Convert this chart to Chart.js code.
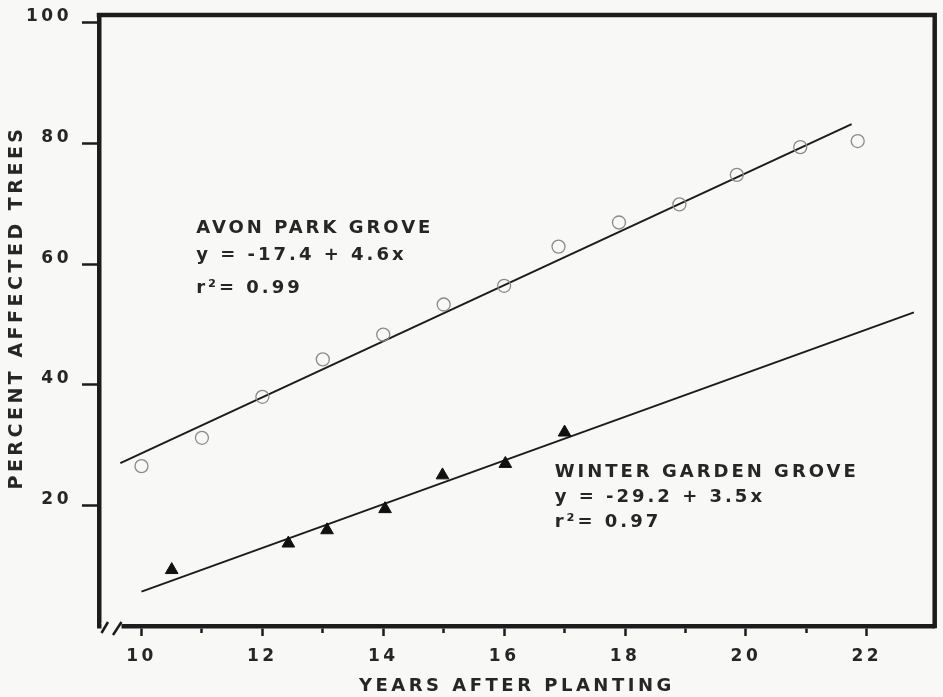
<!DOCTYPE html>
<html>
<head>
<meta charset="utf-8">
<script src="https://cdn.jsdelivr.net/npm/chart.js@4.4.1/dist/chart.umd.min.js"></script>
<style>
  html, body { margin: 0; padding: 0; background: #f8f8f6; }
  canvas { display: block; }
</style>
</head>
<body>
<canvas id="c" width="943" height="697"></canvas>
<script>
// ---- data ----
const avonYears   = [10.0, 11.0, 12.0, 13.0, 14.0, 15.0, 16.0, 16.9, 17.9, 18.9, 19.85, 20.9, 21.85];
const avonPercent = [26.5, 31.2, 38.0, 44.2, 48.3, 53.3, 56.4, 62.9, 66.9, 69.9, 74.8, 79.4, 80.4];

const winterYears   = [10.5, 12.43, 13.07, 14.03, 14.98, 16.02, 17.0];
const winterPercent = [9.3, 13.7, 15.9, 19.4, 25.0, 26.9, 32.1];

// fitted regression lines (end points as drawn)
const avonFitYears   = [9.65, 21.75];
const avonFitPercent = [27.0, 83.2];
const winterFitYears   = [10.0, 22.78];
const winterFitPercent = [5.7, 52.0];

const xTickValues = [10, 11, 12, 13, 14, 15, 16, 17, 18, 19, 20, 21, 22];
const yTickValues = [0, 20, 40, 60, 80, 100];

const avonLabel   = ['AVON PARK GROVE', 'y = -17.4 + 4.6x', 'r\u00B2= 0.99'];
const winterLabel = ['WINTER GARDEN GROVE', 'y = -29.2 + 3.5x', 'r\u00B2= 0.97'];

// ---- styles ----
const BG = '#f8f8f6';
const INK = '#1c1c1c';
const TEXT = '#262626';
const FONT = '"DejaVu Sans", "Liberation Sans", sans-serif';

const pts = (xs, ys) => xs.map((v, i) => ({ x: v, y: ys[i] }));

const notes = [
  { lines: avonLabel, x: 10.905, y: [65.17, 60.70, 55.22] },
  { lines: winterLabel, x: 16.836, y: [24.71, 20.56, 16.42] }
];

const decor = {
  id: 'decor',
  beforeDraw(chart) {
    const ctx = chart.ctx;
    ctx.save();
    ctx.fillStyle = BG;
    ctx.fillRect(0, 0, chart.width, chart.height);
    ctx.restore();
    ctx.letterSpacing = '3.5px';
  },
  afterDraw(chart) {
    const { ctx, chartArea: a, scales: { x, y } } = chart;
    ctx.save();
    // frame top and right
    ctx.strokeStyle = INK;
    ctx.lineWidth = 4.5;
    ctx.lineCap = 'square';
    ctx.beginPath();
    ctx.moveTo(a.left, a.top);
    ctx.lineTo(a.right, a.top);
    ctx.lineTo(a.right, a.bottom);
    ctx.stroke();
    // axis break
    ctx.fillStyle = BG;
    ctx.fillRect(a.left + 2.5, a.bottom - 3, 20, 6);
    ctx.lineCap = 'butt';
    ctx.lineWidth = 2.5;
    ctx.beginPath();
    ctx.moveTo(a.left + 2.5, a.bottom + 7); ctx.lineTo(a.left + 9, a.bottom - 4);
    ctx.moveTo(a.left + 14, a.bottom + 9); ctx.lineTo(a.left + 22.5, a.bottom - 4);
    ctx.stroke();
    // notes
    ctx.fillStyle = TEXT;
    ctx.font = 'bold 18px ' + FONT;
    ctx.letterSpacing = '3px';
    ctx.textAlign = 'left';
    ctx.textBaseline = 'alphabetic';
    notes.forEach(n => {
      n.lines.forEach((t, i) => {
        ctx.fillText(t, x.getPixelForValue(n.x), y.getPixelForValue(n.y[i]));
      });
    });
    ctx.restore();
  }
};

new Chart(document.getElementById('c'), {
  type: 'scatter',
  data: {
    datasets: [
      {
        label: 'Avon Park fit', data: pts(avonFitYears, avonFitPercent), showLine: true,
        borderColor: INK, borderWidth: 2, pointRadius: 0, order: 2
      },
      {
        label: 'Winter Garden fit', data: pts(winterFitYears, winterFitPercent), showLine: true,
        borderColor: INK, borderWidth: 2, pointRadius: 0, order: 2
      },
      {
        label: 'Avon Park Grove', data: pts(avonYears, avonPercent),
        pointStyle: 'circle', pointRadius: 6.5, pointBorderWidth: 1.3,
        pointBorderColor: '#8a8a8a', pointBackgroundColor: 'rgba(0,0,0,0)', order: 1
      },
      {
        label: 'Winter Garden Grove', data: pts(winterYears, winterPercent),
        pointStyle: 'triangle', pointRadius: 7.3, pointBorderWidth: 1,
        pointBorderColor: '#111', pointBackgroundColor: '#111', order: 1
      }
    ]
  },
  options: {
    responsive: false,
    animation: false,
    events: [],
    layout: { padding: { top: 15, right: 4, left: 0, bottom: 0 } },
    plugins: { legend: { display: false }, tooltip: { enabled: false } },
    scales: {
      x: {
        type: 'linear',
        min: 9.297, max: 23.124,
        afterBuildTicks: s => { s.ticks = xTickValues.map(v => ({ value: v })); },
        afterFit: s => { s.height = 71; s.paddingLeft = 0; s.paddingRight = 0; },
        border: { display: true, color: INK, width: 4.5 },
        grid: {
          drawOnChartArea: false, drawTicks: true, tickLength: 10,
          tickWidth: 2.5, tickColor: INK,
          tickBorderDash: c => (c.tick && c.tick.value % 2 === 1) ? [4.5, 30] : []
        },
        ticks: {
          color: TEXT, padding: 10.5,
          font: { family: FONT, size: 17, weight: 'bold' },
          callback: v => (v % 2 === 0 ? String(v) : '')
        },
        title: {
          display: true, text: 'YEARS AFTER PLANTING', color: TEXT,
          font: { family: FONT, size: 18, weight: 'bold' },
          padding: { top: 0, bottom: 0 }
        }
      },
      y: {
        type: 'linear',
        min: 0, max: 101.3,
        afterBuildTicks: s => { s.ticks = yTickValues.map(v => ({ value: v })); },
        afterFit: s => { s.width = 99; s.paddingTop = 0; s.paddingBottom = 0; },
        border: { display: true, color: INK, width: 4.5 },
        grid: {
          drawOnChartArea: false, drawTicks: true, tickLength: 17,
          tickWidth: 2.5,
          tickColor: c => (c.tick && c.tick.value === 0) ? 'rgba(0,0,0,0)' : INK
        },
        ticks: {
          color: TEXT, padding: 10, labelOffset: -6,
          font: { family: FONT, size: 17, weight: 'bold' },
          callback: v => (v === 0 ? '' : String(v))
        },
        title: {
          display: true, text: '\u2002\u2002PERCENT AFFECTED TREES', color: TEXT,
          font: { family: FONT, size: 19, weight: 'bold' },
          padding: { top: 6, bottom: 0 }
        }
      }
    }
  },
  plugins: [decor]
});
</script>
</body>
</html>
